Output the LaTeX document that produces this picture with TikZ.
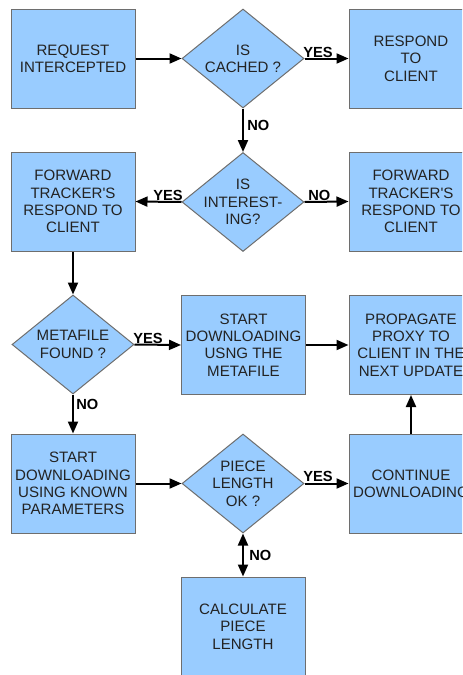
\documentclass[tikz,border=0pt]{standalone}
\usepackage{fontspec}
\setmainfont{Liberation Sans}
\usepackage{tikz}
\usetikzlibrary{shapes.geometric}
\usetikzlibrary{arrows.meta}
\definecolor{boxblue}{RGB}{153,204,255}
\definecolor{boxline}{RGB}{110,110,110}
\definecolor{txtgray}{RGB}{35,35,35}
\tikzset{stepbox/.style={draw=boxline, fill=boxblue, line width=0.75pt, minimum width=93pt, minimum height=74.25pt, align=center, inner sep=0pt, text=txtgray, font=\fontsize{11.3}{13}\selectfont}}
\tikzset{decision/.style={stepbox, shape=diamond, aspect=1.23, minimum width=91.5pt, minimum height=74.25pt, inner sep=-3.5pt}}
\tikzset{lbl/.style={inner sep=0pt, font=\bfseries\fontsize{11}{13}\selectfont}}
\tikzset{arr/.style={line width=1.5pt, -{Triangle[length=9pt,width=7.5pt]}}}
\tikzset{darr/.style={line width=1.5pt, {Triangle[length=9pt,width=7.5pt]}-{Triangle[length=9pt,width=7.5pt]}}}

\begin{document}
\begin{tikzpicture}[x=0.75pt,y=-0.75pt]

\useasboundingbox (0,0) rectangle (462,675);
\clip (0,0) rectangle (462,675);

\node[stepbox] (request) at (73,58.5) {REQUEST\\INTERCEPTED};
\node[decision] (cached) at (243,58.5) {IS\\CACHED ?};
\node[stepbox] (respond) at (411,58.5) {RESPOND\\TO\\CLIENT};

\node[stepbox] (fwdYes) at (73,201.5) {FORWARD\\TRACKER\textquotesingle S\\RESPOND TO\\CLIENT};
\node[decision] (interesting) at (243,202) {IS\\INTEREST-\\ING?};
\node[stepbox] (fwdNo) at (411,201.5) {FORWARD\\TRACKER\textquotesingle S\\RESPOND TO\\CLIENT};

\node[decision] (metafile) at (73,344.5) {METAFILE\\FOUND ?};
\node[stepbox] (dlMeta) at (243.5,345) {START\\DOWNLOADING\\USNG THE\\METAFILE};
\node[stepbox] (propagate) at (411,345) {PROPAGATE\\PROXY TO\\CLIENT IN THE\\NEXT UPDATE};

\node[stepbox] (dlKnown) at (73,483.5) {START\\DOWNLOADING\\USING KNOWN\\PARAMETERS};
\node[decision] (piece) at (243,483.5) {PIECE\\LENGTH\\OK ?};
\node[stepbox] (continue) at (411,483.5) {CONTINUE\\DOWNLOADING};

\node[stepbox] (calc) at (243,626.5) {CALCULATE\\PIECE\\LENGTH};

\draw[arr] (request.east) -- (cached.west);
\draw[arr] (cached.east) -- (respond.west);
\draw[arr] (cached.south) -- (interesting.north);
\draw[arr] (interesting.west) -- (fwdYes.east);
\draw[arr] (interesting.east) -- (fwdNo.west);
\draw[arr] (fwdYes.south) -- (metafile.north);
\draw[arr] (metafile.east) -- (dlMeta.west);
\draw[arr] (dlMeta.east) -- (propagate.west);
\draw[arr] (metafile.south) -- (dlKnown.north);
\draw[arr] (dlKnown.east) -- (piece.west);
\draw[arr] (piece.east) -- (continue.west);
\draw[arr] (continue.north) -- (propagate.south);
\draw[darr] (piece.south) -- (calc.north);

\node[lbl, anchor=base west] (yesCached) at (303,57) {YES};
\node[lbl, anchor=north west] (noCached) at (247,120) {NO};
\node[lbl, anchor=base east] (yesInteresting) at (183,200) {YES};
\node[lbl, anchor=base west] (noInteresting) at (308,200) {NO};
\node[lbl, anchor=base west] (yesMetafile) at (133,343) {YES};
\node[lbl, anchor=north west] (noMetafile) at (76,399) {NO};
\node[lbl, anchor=base west] (yesPiece) at (303,481) {YES};
\node[lbl, anchor=north west] (noPiece) at (249,550) {NO};

\end{tikzpicture}
\end{document}
